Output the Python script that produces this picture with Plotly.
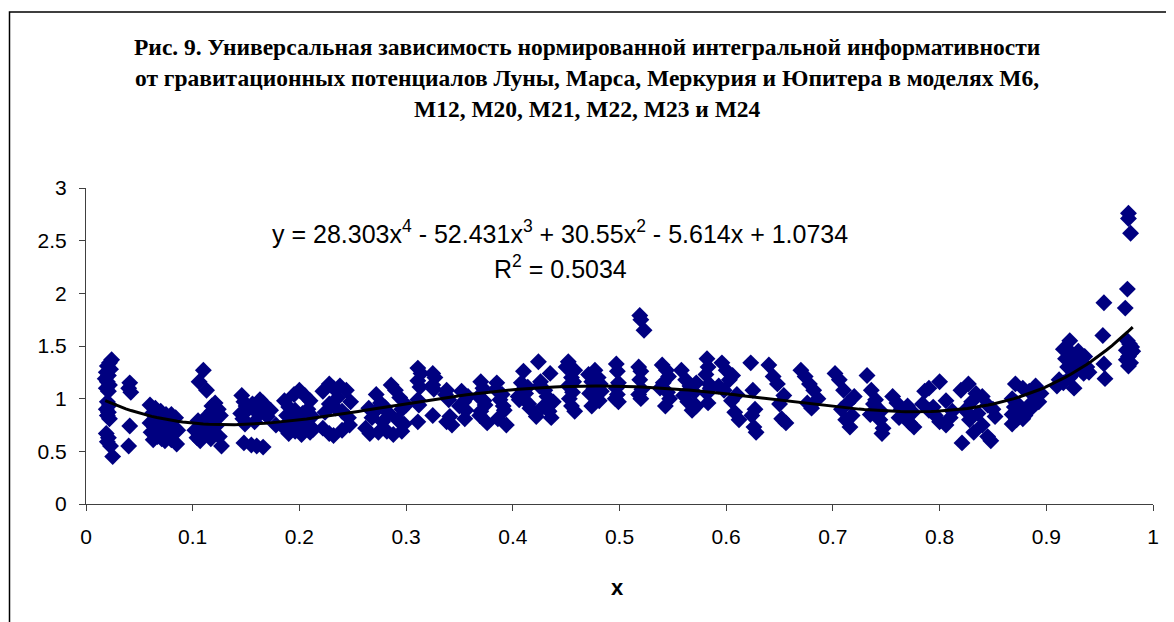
import plotly.graph_objects as go
import numpy as np

# ---- data ----
x_vals = [
    # x ~ 0.02
    0.024,0.022,0.020,0.023,0.019,0.021,0.018,0.020,0.022,0.019,0.021,0.020,0.022,0.019,0.021,0.020,0.022,0.019,0.021,0.020,0.023,0.025,
    # x ~ 0.04
    0.041,0.040,0.042,0.041,0.040,
    # x ~ 0.06-0.086
    0.060,0.065,0.070,0.075,0.080,0.084,0.062,0.066,0.072,0.078,0.060,0.064,0.068,0.073,0.082,0.086,0.061,0.067,0.071,0.077,0.080,0.085,0.063,0.074,0.069,0.076,
    # x ~ 0.10-0.128
    0.106,0.110,0.113,0.105,0.108,0.102,0.104,0.107,0.112,0.115,0.118,0.121,0.118,0.124,0.126,0.116,0.119,0.122,0.125,0.127,0.110,0.114,0.120,0.123,0.109,0.117,
    # x ~ 0.14-0.178
    0.146,0.148,0.150,0.145,0.147,0.149,0.152,0.156,0.160,0.163,0.166,0.168,0.170,0.158,0.148,0.155,0.160,0.166,0.162,0.173,0.178,
    # x ~ 0.18-0.215
    0.186,0.190,0.195,0.200,0.205,0.210,0.196,0.203,0.212,0.190,0.198,0.206,0.186,0.190,0.196,0.202,0.210,0.213,0.188,0.208,
    # x ~ 0.22-0.25
    0.222,0.228,0.232,0.238,0.244,0.248,0.228,0.234,0.240,0.246,0.224,0.222,0.228,0.232,0.240,0.247,0.236,
    # x ~ 0.26-0.30
    0.262,0.266,0.272,0.276,0.280,0.286,0.290,0.294,0.270,0.284,0.296,0.300,0.268,0.278,0.292,0.298,0.274,0.282,0.288,0.296,0.265,
    # x ~ 0.31-0.343
    0.311,0.314,0.311,0.313,0.311,0.312,0.311,0.325,0.327,0.325,0.326,0.325,0.338,0.338,0.340,0.341,0.343,0.337,
    # x ~ 0.35
    0.352,0.354,0.356,0.355,0.350,0.358,
    # x ~ 0.37
    0.370,0.372,0.368,0.374,0.370,0.376,0.373,0.369,
    # x ~ 0.39
    0.385,0.390,0.388,0.392,0.386,0.394,0.384,0.391,
    # x ~ 0.41
    0.410,0.408,0.414,0.412,0.406,0.416,0.409,0.415,0.405,
    # x ~ 0.43
    0.424,0.435,0.426,0.430,0.432,0.428,0.422,0.436,0.438,0.434,0.425,
    # x ~ 0.455
    0.452,0.458,0.455,0.452,0.456,0.453,0.455,0.458,0.450,0.457,
    # x ~ 0.477
    0.477,0.471,0.474,0.476,0.472,0.478,0.474,0.480,0.482,0.483,0.481,
    # x ~ 0.498
    0.497,0.498,0.499,0.497,0.498,0.499,0.496,
    # x ~ 0.52
    0.519,0.520,0.523,0.518,0.520,0.519,0.521,0.520,0.518,
    # x ~ 0.54
    0.540,0.544,0.546,0.541,0.545,0.543,0.538,0.547,
    # x ~ 0.565
    0.558,0.562,0.566,0.570,0.564,0.568,0.572,0.560,0.572,
    # x ~ 0.583
    0.582,0.583,0.581,0.584,0.582,0.583,0.585,
    # x ~ 0.60
    0.596,0.600,0.603,0.598,0.605,0.608,0.612,0.593,0.610,0.606,
    # x ~ 0.625
    0.623,0.625,0.627,0.624,0.628,0.626,
    # x ~ 0.645
    0.640,0.644,0.648,0.650,0.652,0.656,0.654,
    # x ~ 0.678
    0.670,0.674,0.678,0.682,0.686,0.680,0.676,
    # x ~ 0.71
    0.702,0.706,0.710,0.714,0.718,0.712,0.716,0.708,0.720,
    # x ~ 0.74
    0.732,0.736,0.740,0.742,0.744,0.746,0.738,0.745,0.735,0.747,
    # x ~ 0.765
    0.756,0.760,0.764,0.768,0.772,0.776,0.762,0.770,0.775,
    # x ~ 0.80
    0.800,0.790,0.786,0.806,0.784,0.790,0.796,0.800,0.806,0.810,0.794,0.812,
    # x ~ 0.835
    0.827,0.820,0.834,0.840,0.830,0.845,0.824,0.836,0.850,0.828,0.840,0.832,0.845,0.821,0.848,0.852,
    # x ~ 0.88
    0.871,0.878,0.884,0.890,0.895,0.868,0.872,0.876,0.880,0.885,0.890,0.868,0.872,0.868,0.880,0.886,0.893,0.874,0.878,0.870,
    # x ~ 0.925
    0.922,0.916,0.924,0.930,0.936,0.918,0.926,0.932,0.938,0.920,0.928,0.935,0.912,0.916,0.922,0.940,0.910,0.926,
    # x ~ 0.954
    0.954,0.953,0.954,0.955,
    # x ~ 0.977
    0.977,0.977,0.979,0.976,0.974,0.976,0.978,0.980,0.975,0.979,0.977,0.975,0.979,0.977,0.981,
]
y_vals = [
    1.37,1.34,1.31,1.28,1.25,1.22,1.19,1.16,1.13,1.10,1.07,0.97,0.94,0.90,0.87,0.84,0.81,0.67,0.63,0.59,0.55,0.45,
    1.15,1.10,1.06,0.74,0.55,
    0.94,0.91,0.88,0.85,0.85,0.82,0.86,0.80,0.82,0.78,0.77,0.73,0.70,0.74,0.72,0.70,0.68,0.64,0.62,0.66,0.61,0.57,0.61,0.60,0.76,0.71,
    1.16,1.27,1.08,0.79,0.75,0.70,0.63,0.60,0.82,0.78,0.93,0.96,0.88,0.90,0.84,0.70,0.66,0.74,0.64,0.55,0.72,0.68,0.80,0.86,0.65,0.62,
    1.03,0.97,0.93,0.86,0.81,0.76,0.90,0.95,0.93,0.99,0.96,0.89,0.83,0.78,0.58,0.56,0.55,0.54,0.85,0.89,0.75,
    0.98,0.92,1.04,1.08,1.03,0.98,0.89,0.86,0.83,0.78,0.80,0.74,0.72,0.67,0.69,0.66,0.68,0.71,0.84,0.90,
    1.07,1.14,1.10,1.12,1.08,0.97,0.95,0.91,0.88,0.82,0.87,0.72,0.67,0.65,0.70,0.75,1.01,
    0.72,0.67,1.04,0.96,0.92,1.13,1.08,1.01,0.87,0.86,0.90,0.94,0.82,0.78,0.80,0.76,0.68,0.69,0.66,0.69,0.91,
    1.29,1.24,1.17,1.11,0.99,0.94,0.78,1.24,1.20,1.13,1.09,0.84,1.08,0.78,0.99,0.83,0.75,1.04,
    1.07,0.97,0.89,0.81,0.93,1.02,
    1.16,1.10,1.02,0.94,0.88,0.77,0.98,0.84,
    1.15,1.04,0.99,0.89,0.81,0.75,1.09,0.93,
    1.26,1.15,1.11,1.05,0.99,0.91,1.08,0.95,1.02,
    1.35,1.24,1.16,1.08,1.02,0.92,0.83,0.82,0.97,0.88,1.12,
    1.35,1.27,1.20,1.12,1.06,1.00,0.93,0.88,1.30,1.16,
    1.27,1.23,1.16,1.10,1.05,1.00,0.93,1.20,1.14,1.07,0.98,
    1.33,1.26,1.15,1.10,1.04,0.97,1.00,
    1.79,1.75,1.65,1.30,1.26,1.18,1.09,1.00,1.04,
    1.32,1.27,1.21,1.15,1.06,0.93,1.10,1.00,
    1.27,1.18,1.12,1.06,0.97,0.89,0.93,1.03,1.15,
    1.38,1.30,1.23,1.14,1.05,0.96,1.10,
    1.34,1.27,1.18,1.08,0.98,0.87,0.80,1.12,1.04,1.22,
    1.34,1.08,0.90,0.84,0.68,0.73,
    1.32,1.21,1.14,0.95,0.81,0.77,1.03,
    1.27,1.21,1.14,1.08,1.00,0.91,0.96,
    1.24,1.18,1.08,0.96,0.84,0.80,0.73,0.90,1.02,
    1.22,1.08,0.99,0.90,0.80,0.67,0.95,0.88,0.85,0.72,
    1.02,0.96,0.90,0.84,0.77,0.73,0.82,0.93,0.87,
    1.16,1.10,1.07,0.98,0.95,0.89,0.84,0.78,0.75,0.82,0.92,0.88,
    1.14,1.08,1.05,1.02,0.97,0.94,0.89,0.86,0.90,0.80,0.75,0.68,0.64,0.58,0.60,0.83,
    1.14,1.10,1.07,1.12,1.05,1.00,0.96,0.92,0.88,0.95,0.99,0.85,0.80,0.76,0.84,0.91,0.97,0.89,0.81,0.92,
    1.55,1.47,1.43,1.45,1.40,1.38,1.36,1.32,1.30,1.30,1.27,1.24,1.18,1.15,1.20,1.25,1.12,1.10,
    1.91,1.60,1.33,1.19,
    2.76,2.71,2.57,2.04,1.86,1.55,1.52,1.49,1.46,1.43,1.40,1.37,1.34,1.31,1.45,
]

# trendline coefficients shown on the chart (highest power first)
trend_coefs = [28.303, -52.431, 30.55, -5.614, 1.0734]
trend_r2 = 0.5034

x_tick_vals = [0, 0.1, 0.2, 0.3, 0.4, 0.5, 0.6, 0.7, 0.8, 0.9, 1]
x_tick_text = ["0", "0.1", "0.2", "0.3", "0.4", "0.5", "0.6", "0.7", "0.8", "0.9", "1"]
y_tick_vals = [0, 0.5, 1, 1.5, 2, 2.5, 3]
y_tick_text = ["0", "0.5", "1", "1.5", "2", "2.5", "3"]

title_lines = [
    "Рис. 9. Универсальная зависимость нормированной интегральной информативности",
    "от гравитационных потенциалов Луны, Марса, Меркурия и Юпитера в моделях М6,",
    "М12, М20, М21, М22, М23 и М24",
]

# ---- figure ----
tx = np.linspace(min(x_vals), max(x_vals), 200)
ty = np.polyval(trend_coefs, tx)

fig = go.Figure()
fig.add_trace(go.Scatter(
    x=x_vals, y=y_vals, mode="markers",
    marker=dict(symbol="diamond", size=13, color="#000080", line=dict(width=0)),
    showlegend=False, hoverinfo="x+y",
))
fig.add_trace(go.Scatter(
    x=tx, y=ty, mode="lines",
    line=dict(color="black", width=3),
    showlegend=False, hoverinfo="skip",
))

axis_font = dict(family="Liberation Sans, Arial, sans-serif", size=21, color="black")

# page body has an 8px margin: the figure is sized so that it fits the window exactly
fig.update_layout(
    width=1166, height=614,
    margin=dict(l=78, r=21, t=180, b=118),
    paper_bgcolor="white", plot_bgcolor="white",
    xaxis=dict(range=[0, 1], tickvals=x_tick_vals, ticktext=x_tick_text,
               showgrid=False, zeroline=False, showline=True, linecolor="#404040", linewidth=1,
               ticks="outside", ticklen=6, tickcolor="#404040", tickfont=axis_font,
               ticklabelstandoff=8),
    yaxis=dict(range=[0, 3], tickvals=y_tick_vals, ticktext=y_tick_text,
               showgrid=False, zeroline=False, showline=True, linecolor="#404040", linewidth=1,
               ticks="outside", ticklen=6, tickcolor="#404040", tickfont=axis_font,
               ticklabelstandoff=8),
)

# plot area in page pixels: x 86..1153, y 188..504
annotations = []
title_y_px = [47, 78, 109]
for line, ypx in zip(title_lines, title_y_px):
    annotations.append(dict(
        text="<b>" + line + "</b>", xref="paper", yref="paper",
        x=(587 - 86) / 1067, y=(504 - ypx) / 316, xanchor="center", yanchor="middle",
        showarrow=False, font=dict(family="Liberation Serif, Times New Roman, serif", size=23.5, color="black"),
    ))

eq_text = ("y = %.3fx<sup>4</sup> - %.3fx<sup>3</sup> + %.2fx<sup>2</sup> - %.3fx + %.4f"
           % (trend_coefs[0], -trend_coefs[1], trend_coefs[2], -trend_coefs[3], trend_coefs[4]))
annotations.append(dict(
    text=eq_text, xref="paper", yref="paper",
    x=(560 - 86) / 1067, y=(504 - 232) / 316, xanchor="center", yanchor="middle",
    showarrow=False, font=dict(family="Liberation Sans, Arial, sans-serif", size=25, color="black"),
))
annotations.append(dict(
    text="R<sup>2</sup> = %.4f" % trend_r2, xref="paper", yref="paper",
    x=(560 - 86) / 1067, y=(504 - 267) / 316, xanchor="center", yanchor="middle",
    showarrow=False, font=dict(family="Liberation Sans, Arial, sans-serif", size=25, color="black"),
))
annotations.append(dict(
    text="<b>x</b>", xref="paper", yref="paper",
    x=(617 - 86) / 1067, y=(504 - 587) / 316, xanchor="center", yanchor="middle",
    showarrow=False, font=dict(family="Liberation Sans, Arial, sans-serif", size=22, color="black"),
))
fig.update_layout(annotations=annotations)

# chart-area border (top and left edges visible)
fig.add_shape(type="rect", xref="paper", yref="paper",
              x0=(9.5 - 86) / 1067, y0=(504 - 640) / 316,
              x1=(1190 - 86) / 1067, y1=(504 - 12) / 316,
              line=dict(color="black", width=1.5), fillcolor="rgba(0,0,0,0)", layer="below")

fig.write_html("out.html")
